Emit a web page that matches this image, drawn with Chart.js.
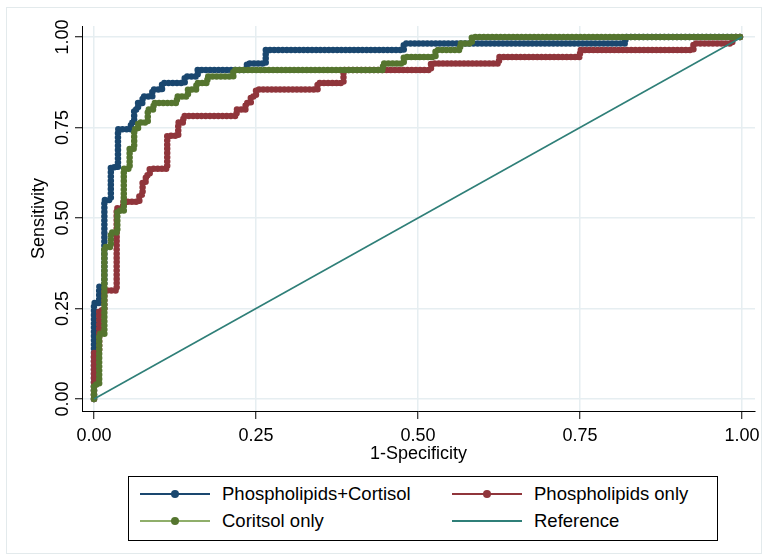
<!DOCTYPE html>
<html><head><meta charset="utf-8">
<script src="https://cdn.jsdelivr.net/npm/chart.js@4.4.1/dist/chart.umd.min.js"></script>
<style>
html,body{margin:0;padding:0;background:#fff;}
#wrap{position:relative;width:768px;height:560px;overflow:hidden;font-family:"Liberation Sans",Arial,sans-serif;}
#frame{position:absolute;left:6px;top:7px;width:756px;height:547px;border:1px solid #e3eaec;box-sizing:border-box;}
canvas{position:absolute;left:0;top:0;}
#legend{position:absolute;left:128px;top:476px;width:590px;height:65px;border:1px solid #000;box-sizing:border-box;background:#fff;}
.item{position:absolute;height:24px;display:flex;align-items:center;font-size:18.5px;color:#000;white-space:nowrap;}
.sw{position:relative;width:70px;height:24px;margin-right:12px;flex:none;}
.sw .ln{position:absolute;left:0;right:0;top:11px;height:2px;}
.sw .dt{position:absolute;left:31px;top:8px;width:8px;height:8px;border-radius:50%;}
</style></head>
<body>
<div id="wrap">
<div id="frame"></div>
<canvas id="c" width="768" height="560"></canvas>
<div id="legend"></div>
</div>
<script>
// ---- data ----
const tickValues = [0, 0.25, 0.5, 0.75, 1];
const seriesNames = ["Phospholipids+Cortisol", "Phospholipids only", "Coritsol only", "Reference"];

const bothFpr = [0,0,0.008,0.008,0.016,0.016,0.026,0.026,0.037,0.037,0.057,0.057,0.062,0.062,0.068,0.068,0.075,0.075,0.09,0.09,0.105,0.105,0.14,0.14,0.16,0.16,0.236,0.236,0.265,0.265,0.478,0.478,0.82,0.82,1];
const bothTpr = [0,0.265,0.265,0.31,0.31,0.55,0.55,0.64,0.64,0.745,0.745,0.764,0.764,0.8,0.8,0.818,0.818,0.836,0.836,0.855,0.855,0.873,0.873,0.891,0.891,0.909,0.909,0.927,0.927,0.964,0.964,0.982,0.982,1,1];

const phosFpr = [0,0,0.008,0.008,0.016,0.016,0.035,0.035,0.045,0.045,0.07,0.07,0.075,0.075,0.08,0.08,0.086,0.086,0.113,0.113,0.13,0.13,0.138,0.138,0.22,0.22,0.234,0.234,0.242,0.242,0.25,0.25,0.345,0.345,0.385,0.385,0.52,0.52,0.625,0.625,0.75,0.75,0.925,0.925,0.985,0.985,1];
const phosTpr = [0,0.127,0.127,0.245,0.245,0.3,0.3,0.527,0.527,0.545,0.545,0.564,0.564,0.6,0.6,0.618,0.618,0.636,0.636,0.727,0.727,0.764,0.764,0.782,0.782,0.8,0.8,0.818,0.818,0.836,0.836,0.855,0.855,0.873,0.873,0.909,0.909,0.927,0.927,0.945,0.945,0.964,0.964,0.982,0.982,1,1];

const cortFpr = [0,0,0.008,0.008,0.016,0.016,0.026,0.026,0.036,0.036,0.046,0.046,0.055,0.055,0.062,0.062,0.068,0.068,0.083,0.083,0.092,0.092,0.128,0.128,0.145,0.145,0.158,0.158,0.175,0.175,0.215,0.215,0.446,0.446,0.478,0.478,0.527,0.527,0.565,0.565,0.583,0.583,1];
const cortTpr = [0,0.04,0.04,0.18,0.18,0.42,0.42,0.46,0.46,0.52,0.52,0.636,0.636,0.691,0.691,0.745,0.745,0.764,0.764,0.8,0.8,0.818,0.818,0.836,0.836,0.855,0.855,0.873,0.873,0.891,0.891,0.909,0.909,0.927,0.927,0.945,0.945,0.964,0.964,0.982,0.982,1,1];

const refFpr = [0, 1];
const refTpr = [0, 1];

const colors = ["#1a476f", "#90353b", "#55752f", "#2f7f78"];
const FONT = "'Liberation Sans', Arial, sans-serif";

const pts = (xs, ys) => xs.map((x, i) => ({x: x, y: ys[i]}));

function rocSet(label, xs, ys, color, order) {
  return {
    label: label, data: pts(xs, ys), borderColor: color, backgroundColor: color,
    borderWidth: 6.5, borderDash: [0, 4.2], borderCapStyle: 'round', borderJoinStyle: 'round',
    pointRadius: 0, fill: false, tension: 0, order: order
  };
}

const datasets = [
  rocSet(seriesNames[0], bothFpr, bothTpr, colors[0], 3),
  rocSet(seriesNames[1], phosFpr, phosTpr, colors[1], 2),
  rocSet(seriesNames[2], cortFpr, cortTpr, colors[2], 1),
  {label: seriesNames[3], data: pts(refFpr, refTpr), borderColor: colors[3], borderWidth: 1.6,
   pointRadius: 0, fill: false, tension: 0, order: 0}
];

const setTicks = s => { s.ticks = tickValues.map(v => ({value: v})); };

new Chart(document.getElementById('c'), {
  type: 'line',
  data: {datasets: datasets},
  options: {
    responsive: false, animation: false, devicePixelRatio: 1,
    layout: {padding: {left: 0, top: 26, right: 13, bottom: 89}},
    plugins: {legend: {display: false}, tooltip: {enabled: false}},
    scales: {
      x: {
        type: 'linear', min: -0.0185, max: 1.02,
        afterBuildTicks: setTicks,
        afterFit: s => { s.height = 60; },
        grid: {color: '#e6eef1', lineWidth: 1.5, tickColor: '#000', tickWidth: 1, tickLength: 8},
        border: {display: true, color: '#000', width: 1},
        ticks: {callback: v => v.toFixed(2), color: '#000', font: {family: FONT, size: 18}, padding: 6, maxRotation: 0, autoSkip: false},
        title: {display: true, text: '1-Specificity', color: '#000', font: {family: FONT, size: 18}, padding: {top: 0, bottom: 6}}
      },
      y: {
        type: 'linear', min: -0.0331, max: 1.0304,
        afterBuildTicks: setTicks,
        afterFit: s => { s.width = 82; },
        grid: {color: '#e6eef1', lineWidth: 1.5, tickColor: '#000', tickWidth: 1, tickLength: 7},
        border: {display: true, color: '#000', width: 1},
        ticks: {callback: v => v.toFixed(2), color: '#000', font: {family: FONT, size: 18}, padding: -6, minRotation: 90, maxRotation: 90, crossAlign: 'center', autoSkip: false},
        title: {display: true, text: 'Sensitivity', color: '#000', font: {family: FONT, size: 18}, padding: {top: 28, bottom: 0}}
      }
    }
  }
});

// legend (HTML)
const legendPos = [[11, 5], [323, 5], [11, 32], [323, 32]];
const lg = document.getElementById('legend');
seriesNames.forEach((name, i) => {
  const it = document.createElement('div');
  it.className = 'item';
  it.style.left = legendPos[i][0] + 'px';
  it.style.top = legendPos[i][1] + 'px';
  const sw = document.createElement('div'); sw.className = 'sw';
  const ln = document.createElement('div'); ln.className = 'ln';
  ln.style.background = i === 2 ? '#8fae6a' : colors[i];
  sw.appendChild(ln);
  if (i < 3) { const dt = document.createElement('div'); dt.className = 'dt'; dt.style.background = colors[i]; sw.appendChild(dt); }
  it.appendChild(sw);
  const tx = document.createElement('span'); tx.textContent = name;
  it.appendChild(tx);
  lg.appendChild(it);
});
</script>
</body></html>
